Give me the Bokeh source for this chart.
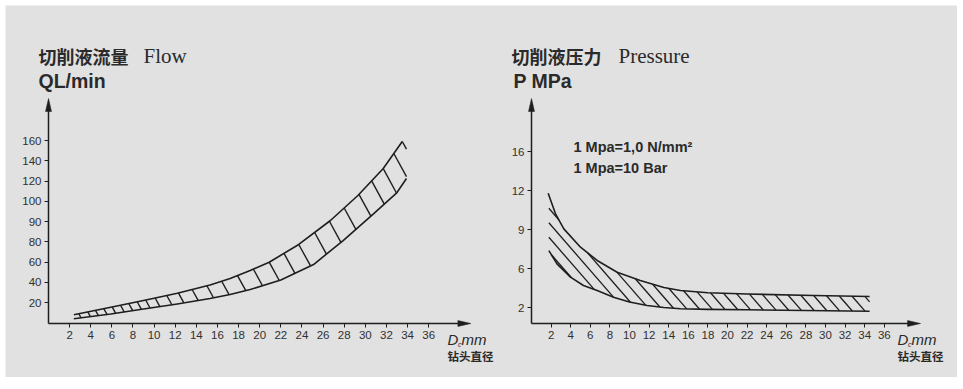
import numpy as np
from bokeh.plotting import figure
from bokeh.models import FixedTicker, Label, Range1d, LinearAxis
from bokeh.embed import file_html
from bokeh.resources import INLINE

# ---------------- data ----------------
diam_ticks = [2, 4, 6, 8, 10, 12, 14, 16, 18, 20, 22, 24, 26, 28, 30, 32, 34, 36]
flow_ticks = [20, 40, 60, 80, 90, 100, 120, 140, 160]
pressure_ticks = [2, 6, 9, 12, 16]

# Flow band (L/min) vs drill diameter (mm)
flow_upper_d = [2.4, 5.9, 9.0, 12.2, 15.3, 17.2, 19.1, 20.9, 23.7, 26.7, 29.3, 31.7, 33.5]
flow_upper_q = [8.3, 15.5, 22.0, 29.2, 37.3, 43.7, 51.6, 59.8, 77.3, 90.5, 105.7, 132.3, 159.0]
flow_lower_d = [2.4, 5.9, 9.0, 12.2, 15.3, 17.2, 19.1, 22.0, 25.1, 27.9, 30.8, 33.0, 33.9]
flow_lower_q = [4.5, 9.0, 13.8, 18.6, 24.0, 27.9, 32.8, 42.2, 57.5, 80.6, 93.9, 108.6, 122.5]
flow_hatch_d = [2.87, 3.72, 4.45, 5.24, 6.03, 6.82, 7.6, 8.4, 9.2, 10.1, 11.2, 12.3, 13.6,
                15.0, 16.4, 17.9, 19.4, 20.9, 22.3, 23.7, 25.2, 26.6, 28.0, 29.4, 30.6,
                31.7, 32.7, 33.5]

# Pressure band (MPa) vs drill diameter (mm)
press_upper_d = [1.7, 2.45, 3.3, 5.0, 6.7, 8.74, 11.1, 13.5, 15.2, 18.0, 22.0, 28.8, 34.5]
press_upper_p = [11.79, 10.21, 9.05, 7.64, 6.62, 5.62, 4.77, 4.05, 3.74, 3.52, 3.38, 3.23, 3.13]
press_lower_d = [1.77, 2.6, 3.98, 5.3, 6.7, 8.37, 10.0, 11.8, 13.5, 15.2, 18.0, 22.0, 34.5]
press_lower_p = [7.38, 6.36, 5.11, 4.26, 3.74, 3.06, 2.56, 2.21, 2.0, 1.84, 1.76, 1.71, 1.54]

# ---------------- layout constants ----------------
BG = "#e1e1e1"
INK = "#1e1e1e"
TXT = "#2a2a2a"
PAGE_L, PAGE_R, PAGE_T, PAGE_B = 5, 957, 5, 377   # grey panel on the page
AXIS_Y_PAGE = 323                                  # page y of both x axes
L_X0, L_PX = 48, 10.56     # left chart: page x of origin, px per mm
R_X0, R_PX = 531, 9.8      # right chart

# y axis display mapping (value -> px above axis)
flow_map_v = [0] + flow_ticks + [180]
flow_map_h = [0] + [21 + 20.25 * i for i in range(len(flow_ticks) + 1)]
press_map_v = [0] + pressure_ticks
press_map_h = [0, 16, 55, 94, 133, 172]


def h_of(py):
    return AXIS_Y_PAGE - py


dl = lambda px: (px - L_X0) / L_PX
dr = lambda px: (px - R_X0) / R_PX

p = figure(width=PAGE_R - PAGE_L, height=PAGE_B - PAGE_T, output_backend="svg",
           toolbar_location=None,
           x_range=Range1d(dl(PAGE_L), dl(PAGE_R)),
           y_range=Range1d(h_of(PAGE_B), h_of(PAGE_T)),
           min_border=0, min_border_left=0, min_border_right=0,
           min_border_top=0, min_border_bottom=0,
           margin=(PAGE_T, 0, 0, PAGE_L))
p.extra_x_ranges = {"r": Range1d(dr(PAGE_L), dr(PAGE_R))}
p.background_fill_color = BG
p.border_fill_color = BG
p.outline_line_color = None
p.xgrid.visible = False
p.ygrid.visible = False

xr_axis = LinearAxis(x_range_name="r")
yr_axis = LinearAxis(x_range_name="r")
p.add_layout(xr_axis, "below")
p.add_layout(yr_axis, "left")

for ax in (p.xaxis[0], p.yaxis[0], xr_axis, yr_axis):
    ax.fixed_location = 0
    ax.axis_line_color = None
    ax.major_tick_in = 0
    ax.major_tick_out = 4
    ax.major_tick_line_color = INK
    ax.major_tick_line_width = 1
    ax.minor_tick_line_color = None
    ax.major_label_text_font = "Liberation Sans"
    ax.major_label_text_font_size = "11.5px"
    ax.major_label_text_color = "#303030"
    ax.major_label_standoff = 3

p.xaxis[0].ticker = FixedTicker(ticks=diam_ticks)
xr_axis.ticker = FixedTicker(ticks=diam_ticks)
p.yaxis[0].ticker = FixedTicker(ticks=flow_map_h[1:-1])
p.yaxis[0].major_label_overrides = {h: str(v) for h, v in zip(flow_map_h[1:-1], flow_ticks)}
yr_axis.ticker = FixedTicker(ticks=press_map_h[1:])
yr_axis.major_label_overrides = {h: str(v) for h, v in zip(press_map_h[1:], pressure_ticks)}


def draw_axes(pxd, x_end, rn):
    y_top = h_of(98)
    p.segment(x0=[0, 0], y0=[0, 0], x1=[x_end - 10 / pxd, 0], y1=[0, y_top - 10],
              line_color=INK, line_width=1.5, x_range_name=rn)
    p.patches(xs=[[x_end, x_end - 13 / pxd, x_end - 13 / pxd], [0, -3 / pxd, 3 / pxd]],
              ys=[[0, 3, -3], [y_top, y_top - 13, y_top - 13]],
              fill_color=INK, line_color=INK, line_width=0.5, x_range_name=rn)


def label(x, y, text, size, rn="default", font="Liberation Sans", style="normal", color=TXT):
    p.add_layout(Label(x=x, y=y, text=text, text_font=font, text_font_size=size,
                       text_font_style=style, text_color=color, x_range_name=rn,
                       text_baseline="middle", text_align="left"))


# ================= LEFT: flow =================
draw_axes(L_PX, 40, "default")
fu_h = np.interp(flow_upper_q, flow_map_v, flow_map_h)
fl_h = np.interp(flow_lower_q, flow_map_v, flow_map_h)
p.line(flow_upper_d, fu_h, line_color=INK, line_width=1.6, line_join="round")
p.line(flow_lower_d, fl_h, line_color=INK, line_width=1.6, line_join="round")

hx0, hy0, hx1, hy1 = [], [], [], []
d_end = flow_lower_d[-1]
for dt in flow_hatch_d:
    yt = np.interp(dt, flow_upper_d, fu_h)
    db = dt
    for _ in range(8):
        db = dt + 0.55 * (yt - np.interp(db, flow_lower_d, fl_h)) / L_PX
    if db > d_end:
        yb = yt - (d_end - dt) * L_PX / 0.55
        db = d_end
    else:
        yb = np.interp(db, flow_lower_d, fl_h)
    hx0.append(dt); hy0.append(yt); hx1.append(db); hy1.append(yb)
p.segment(x0=hx0, y0=hy0, x1=hx1, y1=hy1, line_color=INK, line_width=1.4)

label(dl(38), h_of(55), "切削液流量", "18px", font="Noto Sans CJK SC", style="bold")
label(dl(143), h_of(55), "Flow", "21px", font="Liberation Serif")
label(dl(38), h_of(80), "QL/min", "19.5px", style="bold")
label(dl(447), h_of(339), "D", "15px", style="italic")
label(dl(457.5), h_of(343.5), "c", "7px", style="italic")
label(dl(461), h_of(339), "mm", "15px", style="italic")
label(dl(447), h_of(355), "钻头直径", "11.5px", font="Noto Sans CJK SC", style="bold")

# ================= RIGHT: pressure =================
draw_axes(R_PX, 39.7, "r")
pu_h = np.interp(press_upper_p, press_map_v, press_map_h)
plw_h = np.interp(press_lower_p, press_map_v, press_map_h)
p.line(press_upper_d, pu_h, line_color=INK, line_width=1.6, line_join="round", x_range_name="r")
p.line(press_lower_d, plw_h, line_color=INK, line_width=1.6, line_join="round", x_range_name="r")

slope = 1.15           # px down per px right
spacing = 12.6         # horizontal px between hatches
anchor_d = dr(710)
c0 = np.interp(anchor_d, press_upper_d, pu_h) + slope * anchor_d * R_PX
dgrid = np.arange(max(press_upper_d[0], press_lower_d[0]),
                  min(press_upper_d[-1], press_lower_d[-1]), 0.004)
ug = np.interp(dgrid, press_upper_d, pu_h)
lg = np.interp(dgrid, press_lower_d, plw_h)
sx0, sy0, sx1, sy1 = [], [], [], []
for k in range(-40, 40):
    c = c0 + k * slope * spacing
    hl = c - slope * dgrid * R_PX
    m = (hl <= ug) & (hl >= lg)
    if not m.any():
        continue
    idx = np.flatnonzero(m)
    breaks = np.flatnonzero(np.diff(idx) > 1)
    starts = np.r_[idx[0], idx[breaks + 1]]
    ends = np.r_[idx[breaks], idx[-1]]
    for a, b in zip(starts, ends):
        if b - a < 2:
            continue
        sx0.append(dgrid[a]); sy0.append(hl[a]); sx1.append(dgrid[b]); sy1.append(hl[b])
p.segment(x0=sx0, y0=sy0, x1=sx1, y1=sy1, line_color=INK, line_width=1.3, x_range_name="r")

label(dr(511), h_of(55), "切削液压力", "18px", rn="r", font="Noto Sans CJK SC", style="bold")
label(dr(618), h_of(55), "Pressure", "21px", rn="r", font="Liberation Serif")
label(dr(513), h_of(80), "P MPa", "19.5px", rn="r", style="bold")
label(dr(573), h_of(146), "1 Mpa=1,0 N/mm²", "14.5px", rn="r", style="bold")
label(dr(573), h_of(167), "1 Mpa=10 Bar", "14.5px", rn="r", style="bold")
label(dr(897), h_of(339), "D", "15px", rn="r", style="italic")
label(dr(907.5), h_of(343.5), "c", "7px", rn="r", style="italic")
label(dr(911), h_of(339), "mm", "15px", rn="r", style="italic")
label(dr(897), h_of(355), "钻头直径", "11.5px", rn="r", font="Noto Sans CJK SC", style="bold")

open("out.html", "w").write(file_html(p, INLINE))
